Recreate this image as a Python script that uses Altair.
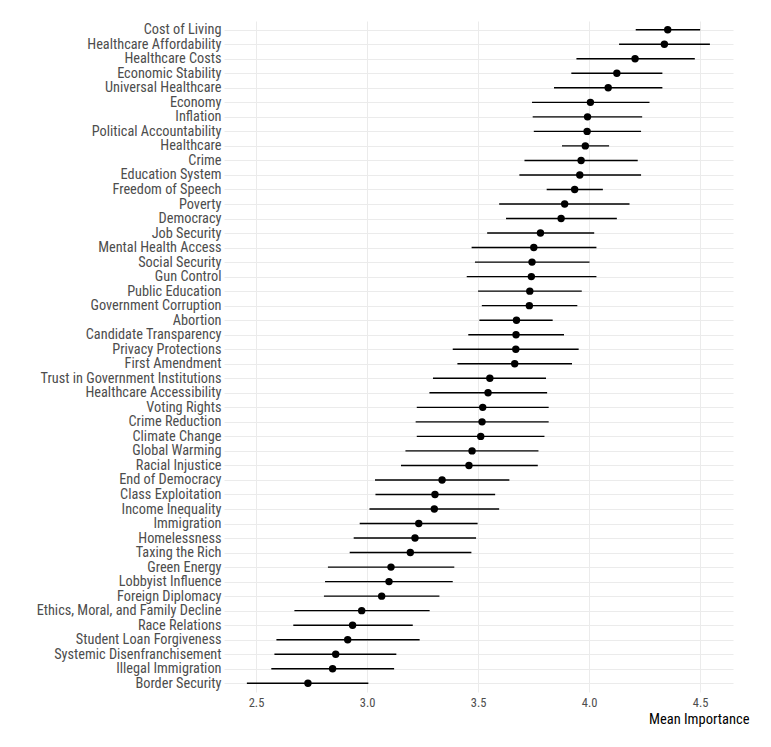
import altair as alt
import pandas as pd

issues = [
    "Cost of Living", "Healthcare Affordability", "Healthcare Costs", "Economic Stability",
    "Universal Healthcare", "Economy", "Inflation", "Political Accountability", "Healthcare",
    "Crime", "Education System", "Freedom of Speech", "Poverty", "Democracy", "Job Security",
    "Mental Health Access", "Social Security", "Gun Control", "Public Education",
    "Government Corruption", "Abortion", "Candidate Transparency", "Privacy Protections",
    "First Amendment", "Trust in Government Institutions", "Healthcare Accessibility",
    "Voting Rights", "Crime Reduction", "Climate Change", "Global Warming", "Racial Injustice",
    "End of Democracy", "Class Exploitation", "Income Inequality", "Immigration",
    "Homelessness", "Taxing the Rich", "Green Energy", "Lobbyist Influence",
    "Foreign Diplomacy", "Ethics, Moral, and Family Decline", "Race Relations",
    "Student Loan Forgiveness", "Systemic Disenfranchisement", "Illegal Immigration",
    "Border Security",
]
means = [
    4.354, 4.339, 4.207, 4.125, 4.086, 4.006, 3.993, 3.991, 3.983, 3.964, 3.958, 3.935,
    3.890, 3.874, 3.781, 3.751, 3.743, 3.740, 3.733, 3.731, 3.673, 3.671, 3.670, 3.665,
    3.553, 3.545, 3.521, 3.518, 3.512, 3.473, 3.459, 3.338, 3.306, 3.303, 3.233,
    3.216, 3.195, 3.108, 3.099, 3.066, 2.976, 2.935, 2.913, 2.859, 2.845, 2.734,
]
lows = [
    4.210, 4.135, 3.943, 3.920, 3.842, 3.743, 3.746, 3.751, 3.878, 3.709, 3.686, 3.809,
    3.595, 3.626, 3.541, 3.471, 3.486, 3.449, 3.500, 3.517, 3.506, 3.456, 3.386, 3.407,
    3.297, 3.281, 3.224, 3.219, 3.224, 3.173, 3.153, 3.036, 3.038, 3.011, 2.967,
    2.940, 2.922, 2.824, 2.811, 2.806, 2.673, 2.668, 2.592, 2.583, 2.569, 2.459,
]
highs = [
    4.500, 4.544, 4.476, 4.330, 4.330, 4.272, 4.239, 4.234, 4.090, 4.219, 4.234, 4.062,
    4.182, 4.125, 4.023, 4.033, 4.002, 4.033, 3.967, 3.947, 3.836, 3.887, 3.953, 3.923,
    3.806, 3.811, 3.818, 3.818, 3.799, 3.772, 3.769, 3.641, 3.577, 3.595, 3.498,
    3.491, 3.470, 3.393, 3.386, 3.326, 3.282, 3.206, 3.237, 3.132, 3.122, 3.006,
]
x_ticks = [2.5, 3.0, 3.5, 4.0, 4.5]

df = pd.DataFrame({"issue": issues, "mean": means, "low": lows, "high": highs})

FONT = "Roboto Condensed, Liberation Sans Narrow, DejaVu Sans Condensed, Roboto, sans-serif"

y_enc = alt.Y(
    "issue:N",
    sort=issues,
    scale=alt.Scale(type="point", padding=0.6),
    axis=alt.Axis(title=None, grid=True, labelPadding=3, labelFontSize=14.3, labelLimit=400),
)
x_scale = alt.Scale(domain=[2.356, 4.648], nice=False, zero=False)
x_axis = alt.Axis(
    title="Mean Importance", values=x_ticks, format=".1f", grid=True,
    labelFontSize=12.5, labelPadding=4,
    titleFontSize=14.5, titleColor="#000000",
    titleAlign="right", titleAnchor="end", titleX=525, titleY=31, titleBaseline="alphabetic",
)

bars = alt.Chart(df).mark_rule(color="black", strokeWidth=1.4).encode(
    x=alt.X("low:Q", scale=x_scale, axis=x_axis),
    x2="high:Q",
    y=y_enc,
)
points = alt.Chart(df).mark_circle(color="black", size=55, opacity=1).encode(
    x=alt.X("mean:Q", scale=x_scale, axis=x_axis),
    y=y_enc,
)

chart = (bars + points).properties(
    width=509, height=671,
    background="white",
    autosize=alt.AutoSizeParams(type="none"),
    padding={"left": 216, "top": 13, "right": 30, "bottom": 40},
).configure_view(stroke=None).configure_axis(
    domain=False, ticks=False, labelFont=FONT, titleFont=FONT, labelColor="#4d4d4d",
    titleFontWeight="normal", gridColor="#ebebeb", gridWidth=1,
)

chart.save("out.html", embed_options={"renderer": "svg", "actions": False})
